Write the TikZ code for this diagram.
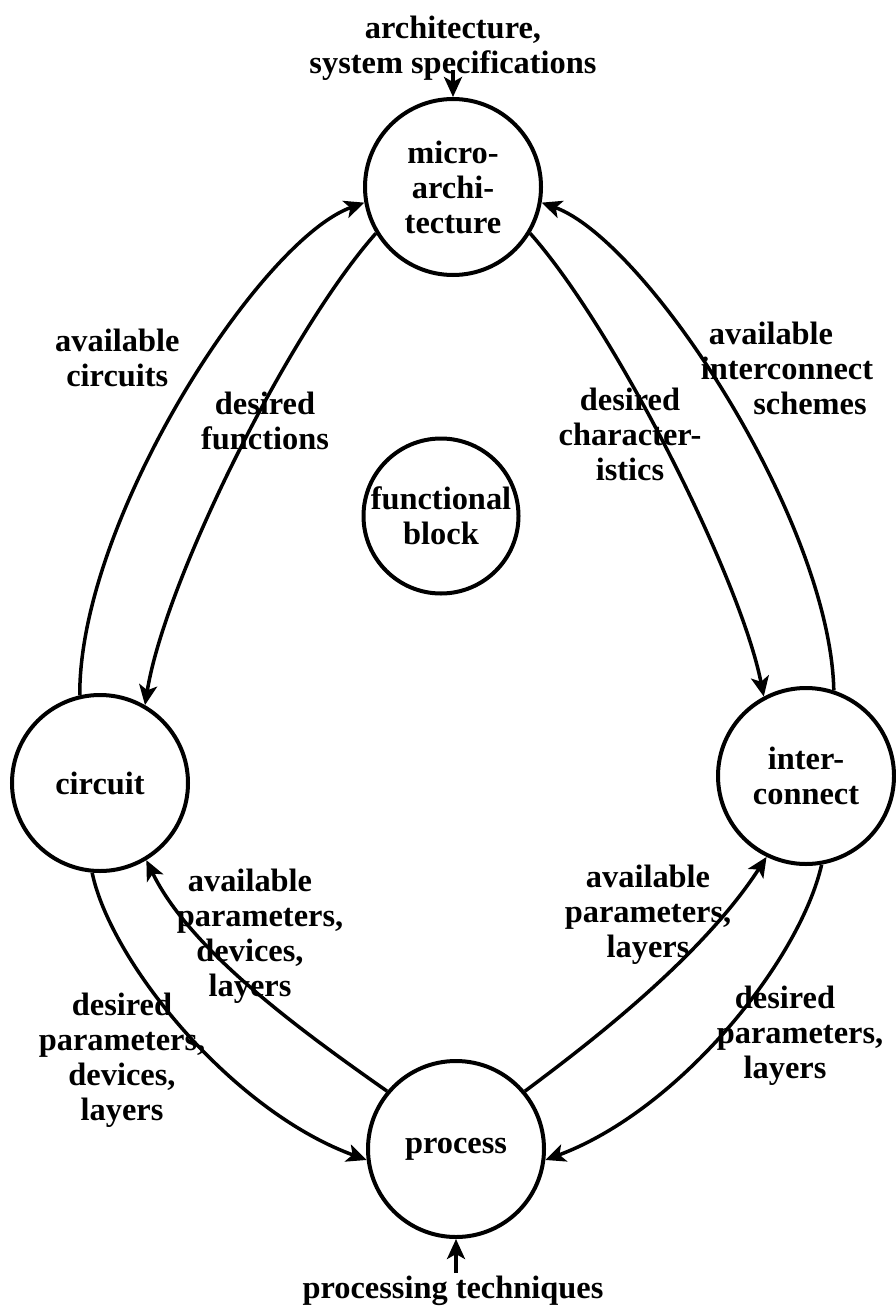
\documentclass[tikz,border=0pt]{standalone}
\usepackage{fontspec}
\setmainfont{Liberation Serif}
\usetikzlibrary{arrows.meta}
\begin{document}
\begin{tikzpicture}[x=1pt,y=-1pt,
  every node/.style={font=\fontsize{32.4}{35}\selectfont\bfseries},
  stage/.style={draw, circle, line width=4pt, minimum size=176pt, inner sep=0pt, align=center},
  lbl/.style={align=center, inner sep=0pt},
  flow/.style={line width=3.5pt, -{Stealth[length=20pt,width=18pt,inset=5pt]}},
]
\useasboundingbox (0,0) rectangle (895,1308);
\fill[white] (0,0) rectangle (895,1308);

% the five design levels
\node[stage] (micro) at (453,187) {micro-\\archi-\\tecture};
\node[stage, minimum size=155pt] (func) at (441,516) {functional\\block};
\node[stage] (circ) at (100,783) {circuit};
\node[stage] (inter) at (806,776) {inter-\\connect};
\node[stage] (proc) at (456,1149) {process};

% external inputs
\node[lbl] (spec) at (453,48) {architecture,\\system specifications};
\node[lbl] (tech) at (453,1291) {processing techniques};
\draw[flow] ([yshift=10pt]spec.south -| micro.north) -- (micro.north);
\draw[flow] ([yshift=3pt]tech.north -| proc.south) -- (proc.south);

% micro-architecture <-> circuit
\draw[flow] (circ.103) .. controls (79,520) and (260,240) .. (micro.190);
\draw[flow] (micro.211) .. controls (290,330) and (165,580) .. (circ.60);
\node[lbl, anchor=west] (availcirc) at (55,358) {available\\circuits};
\node[lbl] (desfunc) at (265,421) {desired\\functions};

% micro-architecture <-> interconnect
\draw[flow] (inter.72) .. controls (830,520) and (646,240) .. (micro.350);
\draw[flow] (micro.329) .. controls (616,330) and (741,580) .. (inter.118);
\node[lbl] (deschar) at (630,434) {desired\\character-\\istics};
\node[lbl] (availic) at (787,368) {available\hspace*{32pt}\\interconnect\\\hspace*{46pt}schemes};

% circuit <-> process
\draw[flow] (proc.140) .. controls (300,1030) and (190,950) .. (circ.301);
\draw[flow] (circ.265) .. controls (110,960) and (230,1110) .. (proc.187);
\node[lbl] (availdev) at (250,936) {available\\\hspace*{20pt}parameters,\\devices,\\layers};
\node[lbl] (desdev) at (122,1060) {desired\\parameters,\\devices,\\layers};

% interconnect <-> process
\draw[flow] (proc.40) .. controls (580,1050) and (700,960) .. (inter.244);
\draw[flow] (inter.280) .. controls (800,960) and (680,1110) .. (proc.353);
\node[lbl] (availlay) at (648,915) {available\\parameters,\\layers};
\node[lbl] (deslay) at (785,1036) {desired\\\hspace*{30pt}parameters,\\layers};
\end{tikzpicture}
\end{document}
